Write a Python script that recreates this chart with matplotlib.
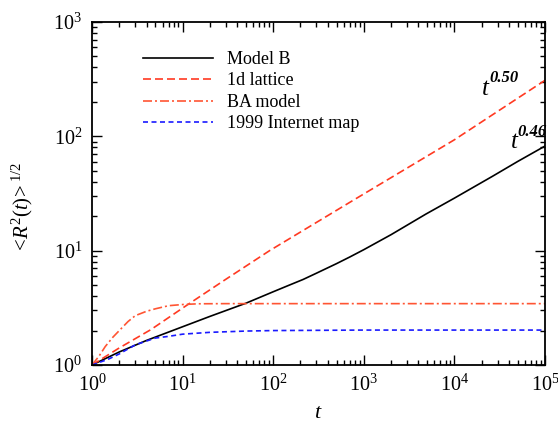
import matplotlib
matplotlib.use("Agg")
import matplotlib.pyplot as plt
from matplotlib.ticker import LogLocator, NullFormatter, LogFormatterSciNotation
import numpy as np

plt.rcParams['font.family'] = ['Liberation Serif', 'DejaVu Serif']
plt.rcParams['mathtext.fontset'] = 'custom'
plt.rcParams['mathtext.rm'] = 'Liberation Serif'
plt.rcParams['mathtext.it'] = 'Liberation Serif:italic'
plt.rcParams['mathtext.bf'] = 'Liberation Serif:bold'

# Model B
t_modelB = [1, 2, 4, 10, 20, 50, 100, 150, 214, 300, 500, 700, 1000, 2000, 4850,
            10000, 26300, 50000, 100000]
r_modelB = [1.0, 1.30, 1.64, 2.16, 2.66, 3.47, 4.37, 4.99, 5.6, 6.35, 7.7, 8.8, 10.2,
            13.8, 20.9, 28.8, 44.7, 60.3, 82.2]

# 1d lattice
t_lattice = [1, 2, 4.47, 11.5, 28.8, 91.2, 759, 10000, 100000]
r_lattice = [1.0, 1.41, 2.04, 3.39, 5.5, 10.0, 27.5, 93.3, 309.0]

# BA model
t_ba = [1, 1.2, 1.4, 1.7, 2, 2.5, 3, 4, 5, 7, 10, 15, 30, 100000]
r_ba = [1.0, 1.2, 1.45, 1.75, 2.0, 2.4, 2.7, 2.95, 3.1, 3.3, 3.38, 3.43, 3.44, 3.44]

# 1999 Internet map
t_inet = [1, 1.5, 2, 3, 5, 7, 10, 20, 50, 100, 1000, 100000]
r_inet = [1.0, 1.12, 1.25, 1.5, 1.72, 1.78, 1.86, 1.93, 1.98, 2.0, 2.02, 2.02]

labels = ["Model B", "1d lattice", "BA model", "1999 Internet map"]

# power-law annotations: (t, r) anchor of the "t", exponent text
ann_t = [2.02e4, 4.2e4]
ann_r = [230, 79]
ann_exp = ["0.50", "0.46"]

fig = plt.figure(figsize=(5.58, 4.24), dpi=100)
ax = fig.add_axes([0.1649, 0.1392, 0.8118, 0.8089])

lw = 1.2
ax.plot(t_modelB, r_modelB, color='black', lw=lw, label=labels[0])
ax.plot(t_lattice, r_lattice, color='#ff3a22', lw=lw, dashes=(4.8, 2.4), label=labels[1])
ax.plot(t_ba, r_ba, color='#ff5533', lw=lw, dashes=(5.4, 1.8, 1.2, 1.8), label=labels[2])
ax.plot(t_inet, r_inet, color='#1a1aff', lw=lw, dashes=(3.0, 2.1), label=labels[3])

ax.set_xscale('log')
ax.set_yscale('log')
ax.set_xlim(1, 1e5)
ax.set_ylim(1, 1e3)

for axis in (ax.xaxis, ax.yaxis):
    axis.set_major_locator(LogLocator(base=10, numticks=10))
    axis.set_minor_locator(LogLocator(base=10, subs=np.arange(2, 10), numticks=100))
    axis.set_minor_formatter(NullFormatter())
    axis.set_major_formatter(LogFormatterSciNotation())

ax.tick_params(which='both', direction='in', top=True, right=True, width=1.0)
ax.tick_params(which='major', length=7, labelsize=14.5, pad=7)
ax.tick_params(which='minor', length=3.5)
for s in ax.spines.values():
    s.set_linewidth(1.3)

ax.set_xlabel(r'$t$', fontsize=16)
ax.xaxis.set_label_coords(0.5, -0.115)
ax.set_ylabel(r'$<\!R^{2}(t)\!>^{1/2}$', fontsize=15)
ax.yaxis.set_label_coords(-0.125, 0.458)

leg = ax.legend(loc='upper left', bbox_to_anchor=(0.097, 0.937), frameon=False,
                fontsize=13, handlelength=3.85, handletextpad=0.8,
                labelspacing=0.25, borderaxespad=0.0)

for tx, ry, ex in zip(ann_t, ann_r, ann_exp):
    ax.text(tx, ry, 't', fontsize=18, fontstyle='italic', ha='left', va='baseline')
    ax.annotate(ex, xy=(tx, ry), xytext=(5, 9), textcoords='offset points',
                fontsize=12, fontstyle='italic', fontweight='bold',
                ha='left', va='baseline')

fig.savefig('out.png', dpi=100)
